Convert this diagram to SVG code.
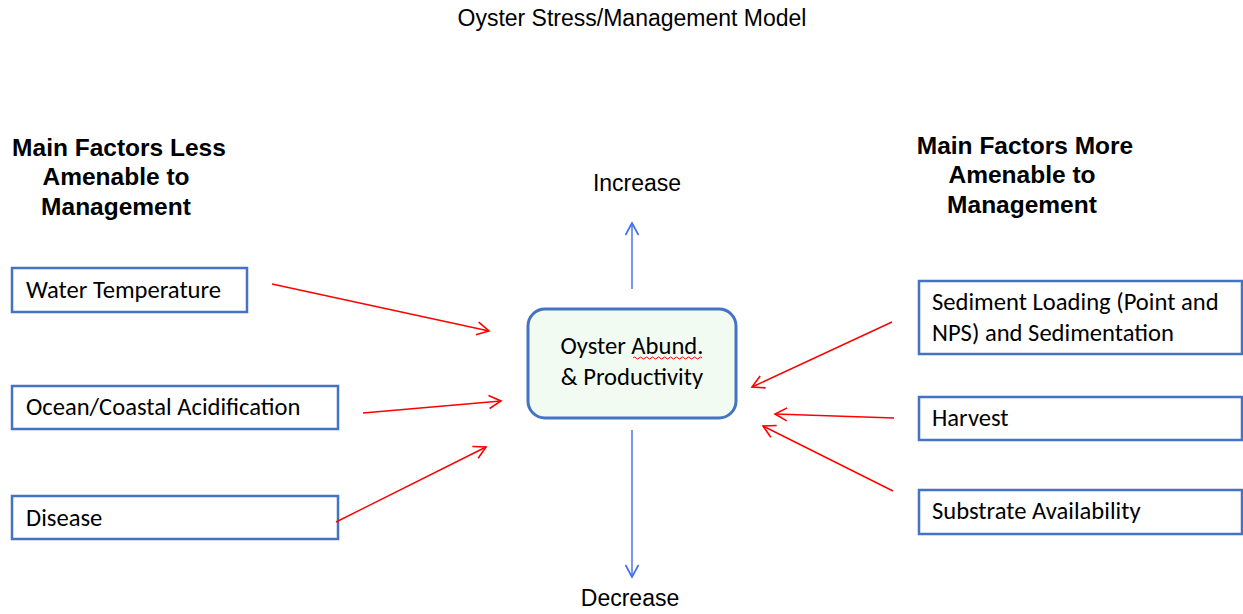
<svg xmlns="http://www.w3.org/2000/svg" width="1243" height="614" viewBox="0 0 1243 614">
<style>
.bg{fill:#ffffff}
.box{fill:#ffffff;stroke:#4472C4;stroke-width:2.5}
.center{fill:#F2FBF2;stroke:#4472C4;stroke-width:3}
.lbl{font-family:"Carlito","Lato","Liberation Sans",sans-serif;font-size:24.6px;fill:#000}
.head{font-family:"Liberation Sans",Arial,sans-serif;font-size:24.5px;font-weight:bold;fill:#000;text-anchor:middle}
.plain{font-family:"Liberation Sans",Arial,sans-serif;font-size:23px;fill:#000;text-anchor:middle}
.red{stroke:#FF0000;stroke-width:1.4;fill:none;marker-end:url(#ahRed)}
.blue{stroke:#3C6CF0;stroke-width:1.4;fill:none;marker-end:url(#ahBlue)}
</style>
<defs>
<marker id="ahRed" viewBox="-14 -8 16 16" refX="0" refY="0" markerWidth="16" markerHeight="16" markerUnits="userSpaceOnUse" orient="auto">
<path d="M-12,-6.5 L0,0 L-12,6.5" fill="none" stroke="#FF0000" stroke-width="1.6"/>
</marker>
<marker id="ahBlue" viewBox="-14 -8 16 16" refX="0" refY="0" markerWidth="16" markerHeight="16" markerUnits="userSpaceOnUse" orient="auto">
<path d="M-12,-6.5 L0,0 L-12,6.5" fill="none" stroke="#3C6CF0" stroke-width="1.6"/>
</marker>
</defs>
<rect class="bg" x="0" y="0" width="1243" height="614"/>

<g id="title">
<text class="plain" x="632" y="26">Oyster Stress/Management Model</text>
</g>

<g id="heading-left">
<text class="head" x="119" y="156">Main Factors Less</text>
<text class="head" x="116" y="185">Amenable to</text>
<text class="head" x="116" y="215">Management</text>
</g>

<g id="heading-right">
<text class="head" x="1025" y="154">Main Factors More</text>
<text class="head" x="1022" y="183">Amenable to</text>
<text class="head" x="1022" y="213">Management</text>
</g>

<g id="increase">
<text class="plain" x="637" y="191">Increase</text>
</g>
<g id="decrease">
<text class="plain" x="630" y="606">Decrease</text>
</g>

<g id="oyster">
<rect class="center" x="528" y="309" width="208" height="109" rx="17" ry="17"/>
<text class="lbl" x="632" y="354" text-anchor="middle">Oyster Abund.</text>
<path d="M633,358 q1.5,-2 3,0 t3,0 t3,0 t3,0 t3,0 t3,0 t3,0 t3,0 t3,0 t3,0 t3,0 t3,0 t3,0 t3,0 t3,0 t3,0 t3,0 t3,0 t3,0 t3,0 t3,0 t3,0 t3,0" fill="none" stroke="#FF0000" stroke-width="1"/>
<text class="lbl" x="632" y="385" text-anchor="middle">&amp; Productivity</text>
</g>

<g id="water-temperature">
<rect class="box" x="12" y="268" width="235" height="44"/>
<text class="lbl" x="26" y="298">Water Temperature</text>
</g>
<g id="acidification">
<rect class="box" x="12" y="386" width="326" height="43"/>
<text class="lbl" x="26" y="415">Ocean/Coastal Acidification</text>
</g>
<g id="disease">
<rect class="box" x="12" y="496" width="326" height="43"/>
<text class="lbl" x="26" y="526">Disease</text>
</g>

<g id="sediment">
<rect class="box" x="919" y="281" width="323" height="73"/>
<text class="lbl" x="932" y="310">Sediment Loading (Point and</text>
<text class="lbl" x="932" y="341">NPS) and Sedimentation</text>
</g>
<g id="harvest">
<rect class="box" x="919" y="397" width="323" height="43"/>
<text class="lbl" x="932" y="426">Harvest</text>
</g>
<g id="substrate">
<rect class="box" x="919" y="490" width="323" height="44"/>
<text class="lbl" x="932" y="519">Substrate Availability</text>
</g>

<g id="connectors">
<line class="red" x1="272" y1="284" x2="489" y2="331"/>
<line class="red" x1="363" y1="413" x2="501" y2="401"/>
<line class="red" x1="336" y1="522" x2="486" y2="447"/>
<line class="red" x1="892" y1="322" x2="752" y2="387"/>
<line class="red" x1="894" y1="418" x2="775" y2="414"/>
<line class="red" x1="893" y1="491" x2="763" y2="426"/>
<line class="blue" x1="632" y1="289" x2="632" y2="223"/>
<line class="blue" x1="632" y1="430" x2="632" y2="577"/>
</g>
</svg>
